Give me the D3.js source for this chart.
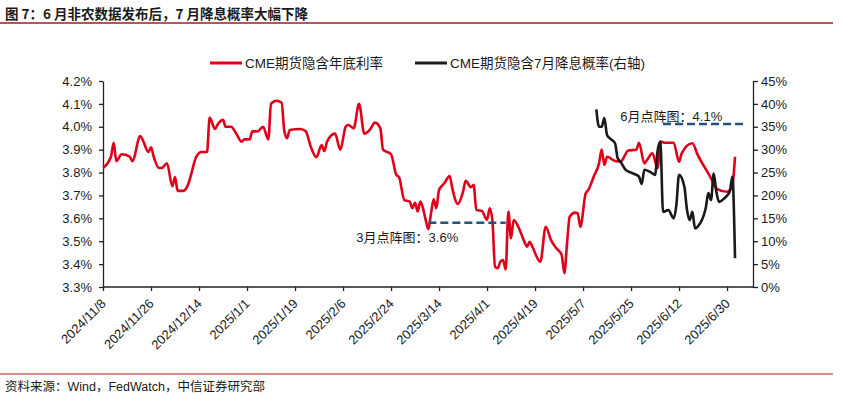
<!DOCTYPE html>
<html>
<head>
<meta charset="utf-8">
<script src="https://cdn.jsdelivr.net/npm/d3@7"></script>
<style>
  body { margin: 0; background: #fff; }
  svg { display: block; font-family: "Liberation Sans", Arial, "Noto Sans CJK SC", sans-serif; }
</style>
</head>
<body>
<div id="chart"></div>
<script>
// CME implied year-end rate (left axis, %)
var rateDates = ["2024-11-08","2024-11-11","2024-11-12","2024-11-13","2024-11-15","2024-11-18","2024-11-19","2024-11-22","2024-11-23","2024-11-25","2024-11-26","2024-11-27","2024-11-29","2024-11-30","2024-12-02","2024-12-04","2024-12-05","2024-12-06","2024-12-08","2024-12-10","2024-12-11","2024-12-13","2024-12-15","2024-12-17","2024-12-18","2024-12-20","2024-12-21","2024-12-23","2024-12-24","2024-12-26","2024-12-28","2024-12-30","2024-12-31","2025-01-02","2025-01-03","2025-01-05","2025-01-07","2025-01-09","2025-01-10","2025-01-12","2025-01-14","2025-01-15","2025-01-16","2025-01-17","2025-01-21","2025-01-23","2025-01-25","2025-01-27","2025-01-29","2025-01-30","2025-01-31","2025-02-03","2025-02-05","2025-02-07","2025-02-08","2025-02-10","2025-02-12","2025-02-14","2025-02-16","2025-02-18","2025-02-20","2025-02-21","2025-02-24","2025-02-26","2025-02-27","2025-03-01","2025-03-03","2025-03-04","2025-03-05","2025-03-06","2025-03-07","2025-03-08","2025-03-09","2025-03-10","2025-03-11","2025-03-12","2025-03-13","2025-03-14","2025-03-16","2025-03-18","2025-03-19","2025-03-21","2025-03-23","2025-03-24","2025-03-26","2025-03-27","2025-03-28","2025-03-30","2025-04-01","2025-04-02","2025-04-03","2025-04-04","2025-04-05","2025-04-06","2025-04-07","2025-04-08","2025-04-09","2025-04-10","2025-04-11","2025-04-13","2025-04-15","2025-04-16","2025-04-17","2025-04-18","2025-04-21","2025-04-23","2025-04-25","2025-04-27","2025-04-29","2025-04-30","2025-05-01","2025-05-02","2025-05-04","2025-05-05","2025-05-06","2025-05-08","2025-05-09","2025-05-11","2025-05-13","2025-05-14","2025-05-15","2025-05-16","2025-05-19","2025-05-21","2025-05-24","2025-05-27","2025-05-28","2025-05-30","2025-05-31","2025-06-02","2025-06-04","2025-06-05","2025-06-07","2025-06-10","2025-06-12","2025-06-13","2025-06-17","2025-06-19","2025-06-24","2025-06-26","2025-06-30","2025-07-02","2025-07-03"];
var rateValues = [3.82,3.87,3.93,3.85,3.88,3.87,3.85,3.96,3.94,3.89,3.91,3.87,3.82,3.82,3.84,3.74,3.78,3.72,3.72,3.75,3.79,3.87,3.89,3.89,4.04,3.99,4.01,4.03,4.00,4.00,3.97,3.935,3.945,3.945,3.98,3.98,4.00,3.945,4.10,4.114,4.105,3.98,3.95,3.986,3.99,3.98,3.91,3.867,3.92,3.894,3.935,3.97,3.90,4.00,4.008,3.993,4.10,3.97,3.986,4.018,3.993,3.90,3.88,3.79,3.78,3.68,3.673,3.644,3.668,3.63,3.673,3.644,3.593,3.552,3.622,3.683,3.644,3.724,3.753,3.785,3.73,3.663,3.716,3.764,3.736,3.746,3.636,3.633,3.593,3.644,3.593,3.389,3.382,3.41,3.418,3.377,3.63,3.513,3.593,3.556,3.498,3.476,3.498,3.476,3.41,3.563,3.505,3.469,3.44,3.36,3.49,3.607,3.625,3.622,3.563,3.709,3.724,3.782,3.84,3.90,3.833,3.869,3.85,3.847,3.896,3.90,3.93,3.84,3.855,3.884,3.82,3.935,3.93,3.93,3.847,3.884,3.928,3.877,3.775,3.73,3.716,3.745,3.869];

// CME implied probability of a July cut (right axis, %)
var probDates = ["2025-05-12","2025-05-13","2025-05-14","2025-05-15","2025-05-16","2025-05-17","2025-05-19","2025-05-20","2025-05-21","2025-05-23","2025-05-25","2025-05-27","2025-05-28","2025-05-29","2025-05-30","2025-06-01","2025-06-03","2025-06-04","2025-06-05","2025-06-06","2025-06-08","2025-06-10","2025-06-11","2025-06-12","2025-06-14","2025-06-15","2025-06-16","2025-06-17","2025-06-18","2025-06-19","2025-06-22","2025-06-23","2025-06-24","2025-06-25","2025-06-26","2025-06-27","2025-06-29","2025-07-01","2025-07-02","2025-07-03"];
var probValues = [38.8,35.0,35.0,36.9,33.2,32.5,31.4,28.1,27.4,25.6,25.0,24.5,24.1,22.5,25.6,25.2,24.5,29.9,31.7,16.4,16.8,15.0,17.9,24.5,21.9,16.8,14.6,16.4,12.8,13.2,17.2,20.5,19.0,24.8,20.8,18.6,19.4,20.8,24.1,6.3];

var xTickDates = ["2024-11-08","2024-11-26","2024-12-14","2025-01-01","2025-01-19","2025-02-06","2025-02-24","2025-03-14","2025-04-01","2025-04-19","2025-05-07","2025-05-25","2025-06-12","2025-06-30"];
var leftTicks = [3.3,3.4,3.5,3.6,3.7,3.8,3.9,4.0,4.1,4.2];
var rightTicks = [0,5,10,15,20,25,30,35,40,45];

// dot-plot annotations: label, label start, dash start, dash end, level (left axis)
var noteLabels = ["3月点阵图：3.6%", "6月点阵图：4.1%"];
var noteTextDates = ["2025-02-11", "2025-05-21"];
var noteTextLevels = [3.518, 4.044];
var noteStart = ["2025-03-10", "2025-06-06"];
var noteEnd = ["2025-04-08", "2025-07-06"];
var noteLevels = [3.581, 4.012];

var parse = d3.utcParse("%Y-%m-%d");
var rateData = rateDates.map((d, i) => ({ date: parse(d), value: rateValues[i] }));
var probData = probDates.map((d, i) => ({ date: parse(d), value: probValues[i] }));

var W = 844, H = 396;
var svg = d3.select("#chart").append("svg").attr("width", W).attr("height", H);

var x = d3.scaleUtc().domain([parse("2024-11-08"), parse("2025-07-10")]).range([103, 753.7]);
var yL = d3.scaleLinear().domain([3.3, 4.2]).range([287, 81]);
var yR = d3.scaleLinear().domain([0, 45]).range([287, 81]);

var darkRed = "#a8191f";

// title
svg.append("text").attr("x", 5).attr("y", 19)
  .attr("font-family", "'Noto Sans CJK SC', sans-serif")
  .attr("font-size", 13.5).attr("font-weight", "bold").attr("fill", "#1a1a1a")
  .text("图 7：6 月非农数据发布后，7 月降息概率大幅下降");
svg.append("line").attr("x1", 0).attr("x2", 833).attr("y1", 23).attr("y2", 23)
  .attr("stroke", darkRed).attr("stroke-width", 1.5);

// footer
svg.append("line").attr("x1", 0).attr("x2", 833).attr("y1", 374).attr("y2", 374)
  .attr("stroke", darkRed).attr("stroke-width", 1);
svg.append("text").attr("x", 5).attr("y", 391)
  .attr("font-size", 12.5).attr("fill", "#1a1a1a")
  .text("资料来源：Wind，FedWatch，中信证券研究部");

// legend
var legend = svg.append("g").attr("font-size", 13.5).attr("fill", "#1a1a1a");
[["CME期货隐含年底利率", "#e0001b", 210], ["CME期货隐含7月降息概率(右轴)", "#1a1a1a", 415]].forEach(function (l) {
  legend.append("line").attr("x1", l[2]).attr("x2", l[2] + 32).attr("y1", 63).attr("y2", 63)
    .attr("stroke", l[1]).attr("stroke-width", 3);
  legend.append("text").attr("x", l[2] + 35).attr("y", 63).attr("dy", "0.36em").text(l[0]);
});

// axes
var fmtDate = d3.utcFormat("%Y/%-m/%-d");
var gx = svg.append("g").attr("transform", "translate(0,287)")
  .call(d3.axisBottom(x).tickValues(xTickDates.map(parse)).tickFormat(fmtDate).tickSize(4).tickSizeOuter(0));
gx.selectAll("text")
  .attr("x", -10).attr("y", 10).attr("dy", "0.35em")
  .attr("text-anchor", "end").attr("transform", "rotate(-45)");

var gl = svg.append("g").attr("transform", "translate(103,0)")
  .call(d3.axisLeft(yL).tickValues(leftTicks).tickFormat(d => d.toFixed(1) + "%").tickSize(4).tickSizeOuter(0).tickPadding(7));
var gr = svg.append("g").attr("transform", "translate(753,0)")
  .call(d3.axisRight(yR).tickValues(rightTicks).tickFormat(d => d + "%").tickSize(5).tickSizeOuter(0).tickPadding(3));

[gx, gl, gr].forEach(function (g) {
  g.selectAll("text").attr("font-size", 13).attr("fill", "#1a1a1a")
    .attr("font-family", "'Liberation Sans', Arial, sans-serif");
  g.selectAll("path, line").attr("stroke", "#222").attr("stroke-width", 1.3);
});
gx.select(".domain").attr("d", "M103,0H753");

// series
svg.append("path").datum(rateData)
  .attr("fill", "none").attr("stroke", "#e0001b").attr("stroke-width", 2.6)
  .attr("stroke-linejoin", "round")
  .attr("d", d3.line().curve(d3.curveMonotoneX).x(d => x(d.date)).y(d => yL(d.value)));

svg.append("path").datum(probData)
  .attr("fill", "none").attr("stroke", "#1a1a1a").attr("stroke-width", 2.6)
  .attr("stroke-linejoin", "round")
  .attr("d", d3.line().curve(d3.curveMonotoneX).x(d => x(d.date)).y(d => yR(d.value)));

// annotations
noteLabels.forEach(function (t, i) {
  svg.append("line")
    .attr("x1", x(parse(noteStart[i]))).attr("x2", x(parse(noteEnd[i])))
    .attr("y1", yL(noteLevels[i])).attr("y2", yL(noteLevels[i]))
    .attr("stroke", "#24527a").attr("stroke-width", 2.5).attr("stroke-dasharray", "8,4");
  svg.append("text")
    .attr("x", x(parse(noteTextDates[i]))).attr("y", yL(noteTextLevels[i])).attr("dy", "0.36em")
    .attr("font-size", 13).attr("fill", "#1a1a1a").text(t);
});
</script>
</body>
</html>
